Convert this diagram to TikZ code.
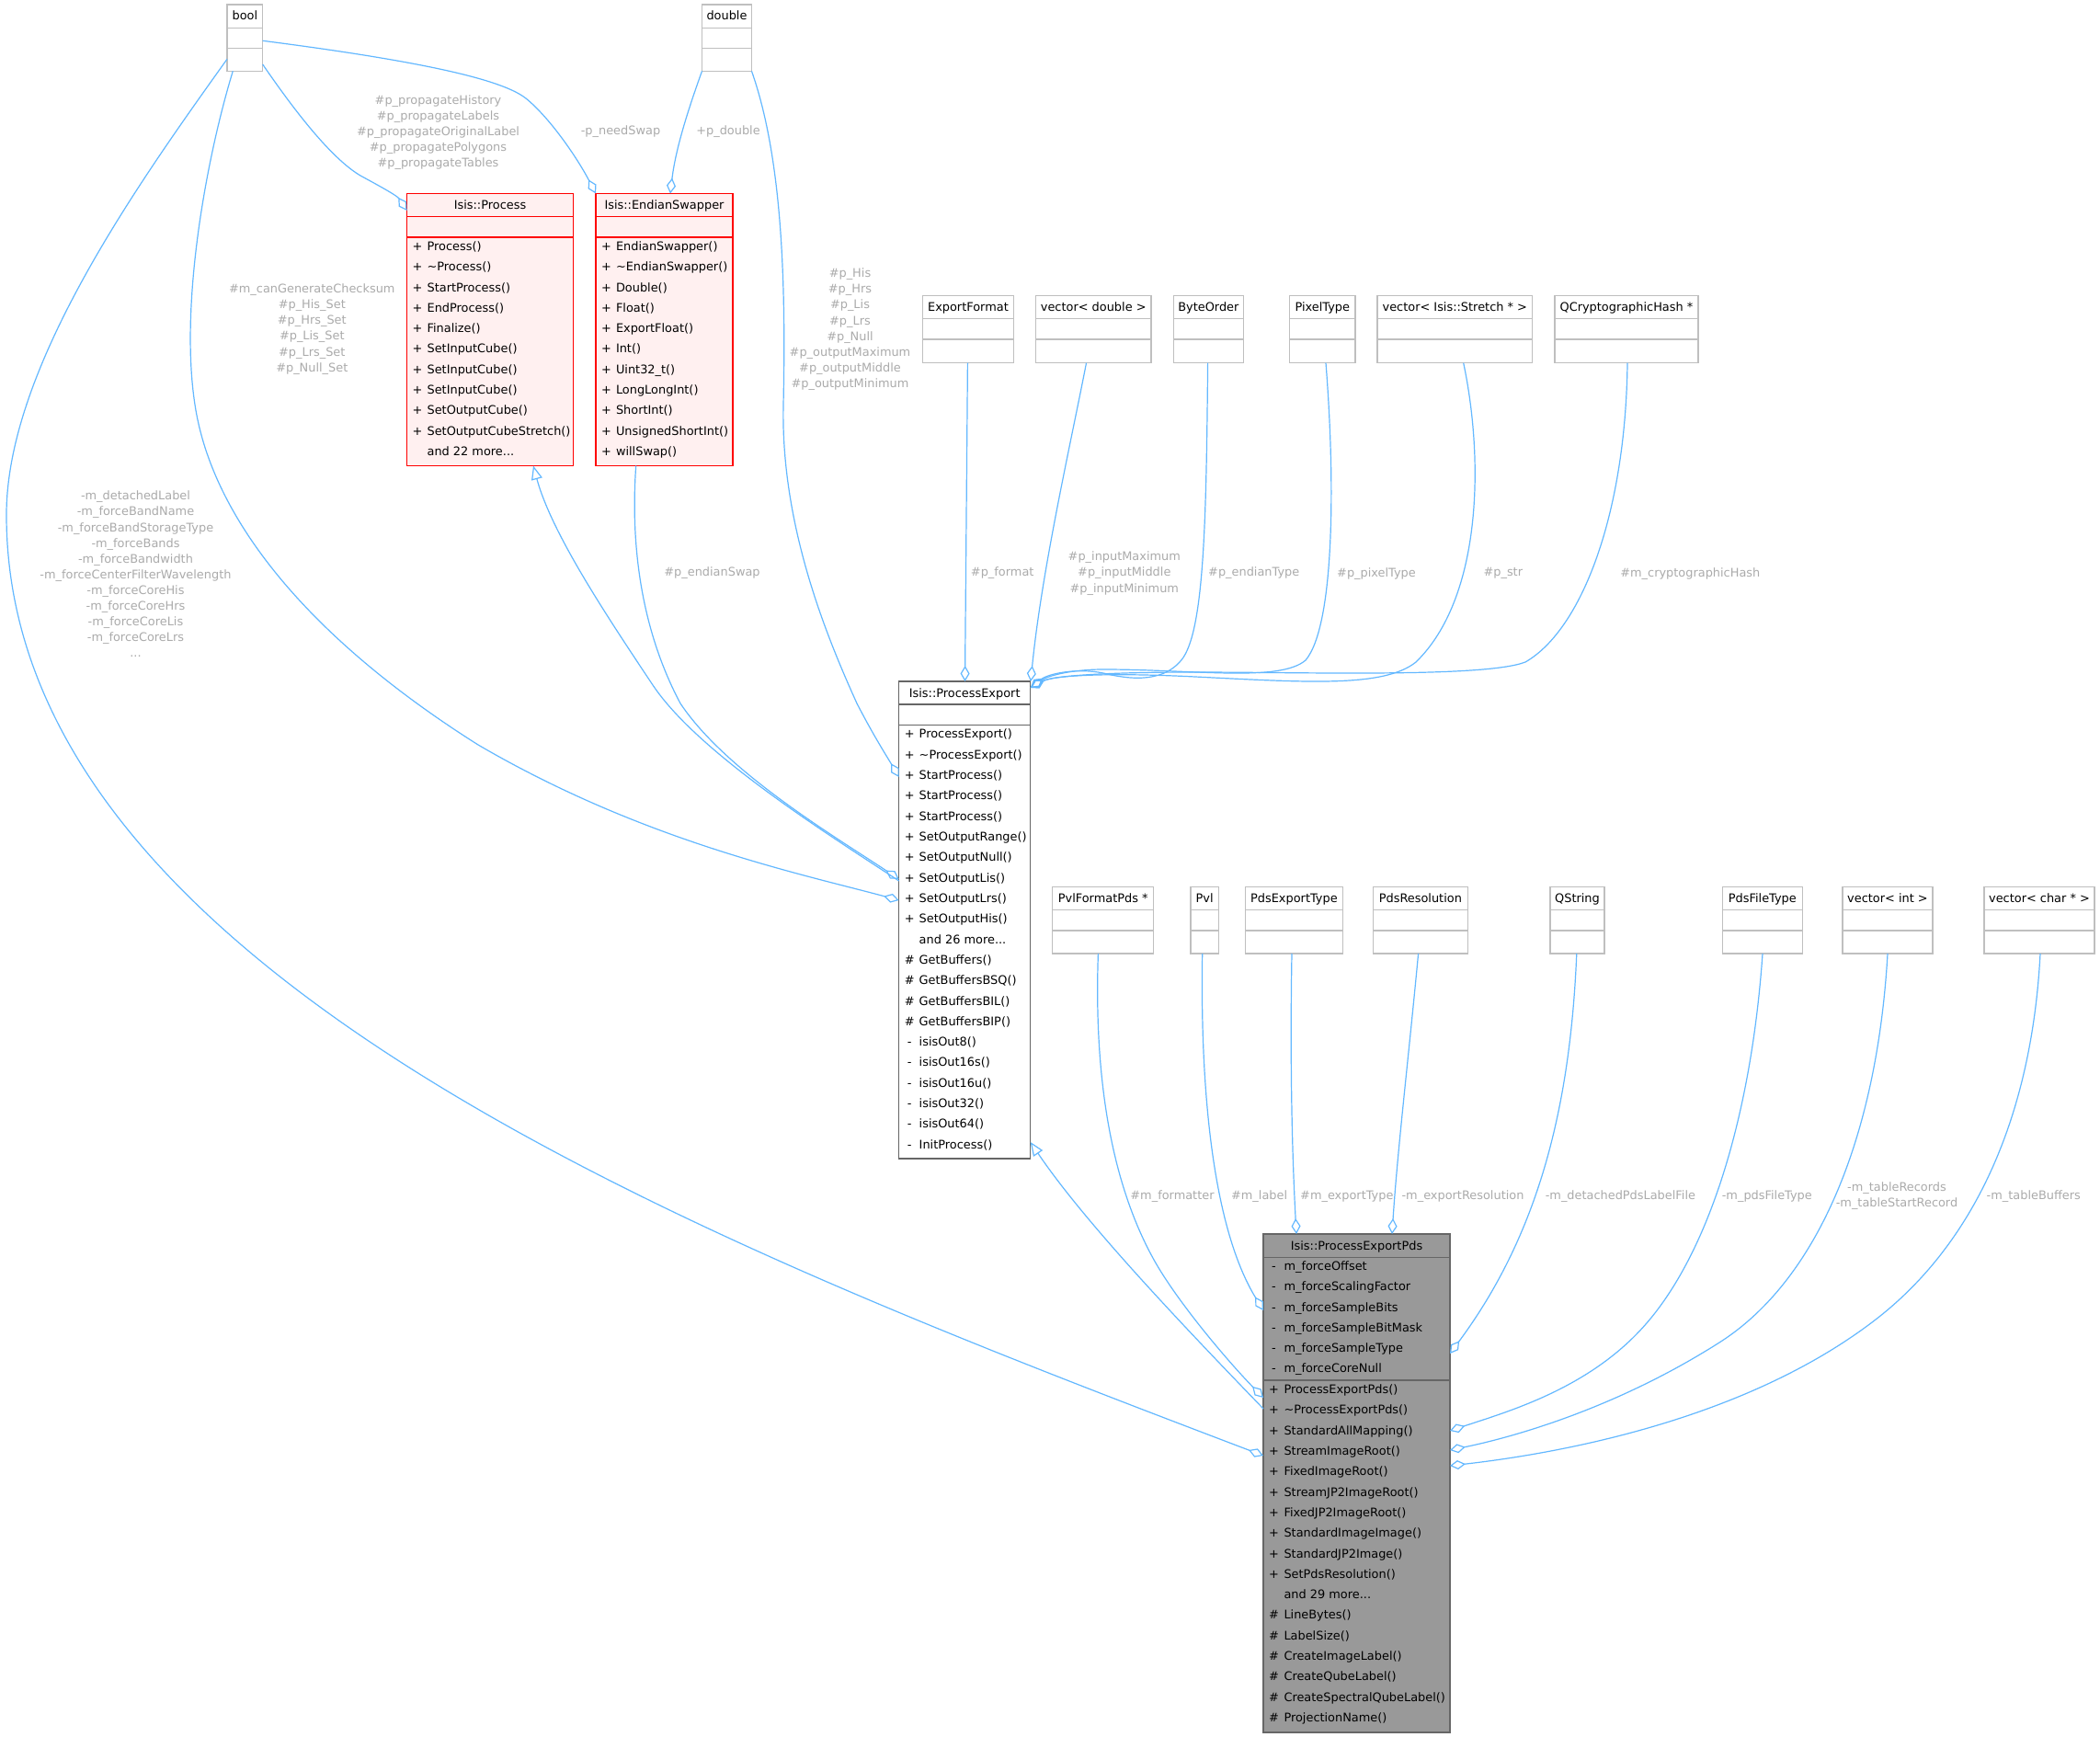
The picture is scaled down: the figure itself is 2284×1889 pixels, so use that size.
\documentclass[tikz,border=0pt]{standalone}
\usepackage{fontspec}
\setmainfont{DejaVu Sans}
\usetikzlibrary{arrows.meta,fit}
\definecolor{edgec}{HTML}{63B8FF}
\definecolor{lblc}{HTML}{ABABAB}
\definecolor{extb}{HTML}{BFBFBF}
\definecolor{darkb}{HTML}{666666}
\definecolor{pinkf}{HTML}{FFF0F0}
\definecolor{grayf}{HTML}{999999}
\newcommand\mydots{...}
\newcommand\typebox[6]{%
 \node[extbox, fit={(#2,#3) (#4,#5)}] (#1) {};
 \draw[sepext] (#2,#3+25.3) -- (#4,#3+25.3);
 \draw[sepext] (#2,#3+47.6) -- (#4,#3+47.6);
 \node[txt] (#1-h) at ({(#2+#4)/2},#3+13.5) {#6};
}
\begin{document}
\begin{tikzpicture}[x=1pt,y=-1pt,
 txt/.style={inner sep=0pt, outer sep=0pt, text height=9.4pt, text depth=2.6pt, font=\fontsize{12.9}{15.5}\selectfont},
 lbl/.style={inner sep=0pt, outer sep=0pt, text=lblc, align=center, font=\fontsize{12.9}{17.1}\selectfont},
 extbox/.style={draw=extb, fill=white, line width=1.3pt, inner sep=0pt, outer sep=0pt},
 redbox/.style={draw=red, fill=pinkf, line width=1.3pt, inner sep=0pt, outer sep=0pt},
 pebox/.style={draw=darkb, fill=white, line width=1.3pt, inner sep=0pt, outer sep=0pt},
 pdsbox/.style={draw=darkb, fill=grayf, line width=1.3pt, inner sep=0pt, outer sep=0pt},
 sepext/.style={draw=extb, line width=1.3pt},
 sepred/.style={draw=red, line width=1.3pt},
 sepdark/.style={draw=darkb, line width=1.3pt},
 edge/.style={draw=edgec, line width=1.2pt},
 agg/.style={edge, -{Diamond[open, length=17pt, width=10pt]}},
 inh/.style={edge, -{Triangle[open, length=15pt, width=12pt]}}
]
\useasboundingbox (0,0) rectangle (2284,1889);
\fill[white] (0,0) rectangle (2284,1889);

% ---------- simple type boxes
\typebox{tbool}{247}{5}{285.7}{77.3}{bool}
\typebox{tdouble}{763.5}{5}{817.5}{77.3}{double}
\typebox{tExportFormat}{1003.6}{321.5}{1102.3}{394.7}{ExportFormat}
\typebox{tvecdouble}{1126.4}{321.5}{1252.1}{394.7}{vector< double >}
\typebox{tByteOrder}{1276.2}{321.5}{1352.6}{394.7}{ByteOrder}
\typebox{tPixelType}{1402.5}{321.5}{1474}{394.7}{PixelType}
\typebox{tStretch}{1498}{321.5}{1666.6}{394.7}{vector< Isis::Stretch * >}
\typebox{tQCrypto}{1690.9}{321.5}{1847}{394.7}{QCryptographicHash *}
\typebox{tPvlFormatPds}{1144.6}{964.3}{1254.8}{1037}{PvlFormatPds *}
\typebox{tPvl}{1294.9}{964.3}{1325.5}{1037}{Pvl}
\typebox{tPdsExportType}{1354.5}{964.3}{1460.3}{1037}{PdsExportType}
\typebox{tPdsResolution}{1493.5}{964.3}{1596.2}{1037}{PdsResolution}
\typebox{tQString}{1686}{964.3}{1745}{1037}{QString}
\typebox{tPdsFileType}{1873.4}{964.3}{1960.3}{1037}{PdsFileType}
\typebox{tvecint}{2004}{964.3}{2102}{1037}{vector< int >}
\typebox{tvecchar}{2158}{964.3}{2278}{1037}{vector< char * >}

% ---------- Isis::Process
\node[redbox, fit={(442.6,210.5) (623.4,506.5)}] (Process) {};
\draw[sepred] (442.6,235.4) -- (623.4,235.4);
\draw[sepred] (442.6,258) -- (623.4,258);
\node[txt] (Process-h) at (533,224) {Isis::Process};
\foreach \sy/\tx [count=\i from 0] in {+/Process(), +/\textasciitilde Process(), +/StartProcess(), +/EndProcess(), +/Finalize(), +/SetInputCube(), +/SetInputCube(), +/SetInputCube(), +/SetOutputCube(), +/SetOutputCubeStretch(), {}/and 22 more\mydots}{
 \node[txt] (Process-s\i) at (454,269+22.3*\i) {\sy};
 \node[txt,anchor=west] (Process-r\i) at (464.6,269+22.3*\i) {\tx};
}

% ---------- Isis::EndianSwapper
\node[redbox, fit={(648,210.5) (797,506.5)}] (Endian) {};
\draw[sepred] (648,235.4) -- (797,235.4);
\draw[sepred] (648,258) -- (797,258);
\node[txt] (Endian-h) at (722.5,224) {Isis::EndianSwapper};
\foreach \sy/\tx [count=\i from 0] in {+/EndianSwapper(), +/\textasciitilde EndianSwapper(), +/Double(), +/Float(), +/ExportFloat(), +/Int(), +/Uint32\_t(), +/LongLongInt(), +/ShortInt(), +/UnsignedShortInt(), +/willSwap()}{
 \node[txt] (Endian-s\i) at (659.5,269+22.3*\i) {\sy};
 \node[txt,anchor=west] (Endian-r\i) at (670,269+22.3*\i) {\tx};
}

% ---------- Isis::ProcessExport
\node[pebox, fit={(977.7,741) (1120.7,1260)}] (PExp) {};
\draw[sepdark] (977.7,766) -- (1120.7,766);
\draw[sepdark] (977.7,788.2) -- (1120.7,788.2);
\node[txt] (PExp-h) at (1049.2,754.6) {Isis::ProcessExport};
\foreach \sy/\tx [count=\i from 0] in {+/ProcessExport(), +/\textasciitilde ProcessExport(), +/StartProcess(), +/StartProcess(), +/StartProcess(), +/SetOutputRange(), +/SetOutputNull(), +/SetOutputLis(), +/SetOutputLrs(), +/SetOutputHis(), {}/and 26 more\mydots, \#/GetBuffers(), \#/GetBuffersBSQ(), \#/GetBuffersBIL(), \#/GetBuffersBIP(), -/isisOut8(), -/isisOut16s(), -/isisOut16u(), -/isisOut32(), -/isisOut64(), -/InitProcess()}{
 \node[txt] (PExp-s\i) at (989.2,799.3+22.33*\i) {\sy};
 \node[txt,anchor=west] (PExp-r\i) at (999.7,799.3+22.33*\i) {\tx};
}

% ---------- Isis::ProcessExportPds
\node[pdsbox, fit={(1374,1342) (1577,1884)}] (PDS) {};
\draw[sepdark] (1374,1367.6) -- (1577,1367.6);
\draw[sepdark] (1374,1501) -- (1577,1501);
\node[txt] (PDS-h) at (1475.5,1355.6) {Isis::ProcessExportPds};
\foreach \tx [count=\i from 0] in {m\_forceOffset, m\_forceScalingFactor, m\_forceSampleBits, m\_forceSampleBitMask, m\_forceSampleType, m\_forceCoreNull}{
 \node[txt] (PDS-as\i) at (1385.5,1378.1+22.25*\i) {-};
 \node[txt,anchor=west] (PDS-a\i) at (1396.5,1378.1+22.25*\i) {\tx};
}
\foreach \sy/\tx [count=\i from 0] in {+/ProcessExportPds(), +/\textasciitilde ProcessExportPds(), +/StandardAllMapping(), +/StreamImageRoot(), +/FixedImageRoot(), +/StreamJP2ImageRoot(), +/FixedJP2ImageRoot(), +/StandardImageImage(), +/StandardJP2Image(), +/SetPdsResolution(), {}/and 29 more\mydots, \#/LineBytes(), \#/LabelSize(), \#/CreateImageLabel(), \#/CreateQubeLabel(), \#/CreateSpectralQubeLabel(), \#/ProjectionName()}{
 \node[txt] (PDS-s\i) at (1385.5,1512.2+22.3*\i) {\sy};
 \node[txt,anchor=west] (PDS-r\i) at (1396.5,1512.2+22.3*\i) {\tx};
}

% ---------- connectors
% bool -> EndianSwapper
\draw[agg] (tbool.east |- 0,44.3) .. controls (470,68) and (548,88) .. (572,107) .. controls (598,128) and (628,172) .. (Endian.north west);
\node[lbl] (lb1) at (675,143.5) {-p\_needSwap};
% double -> EndianSwapper
\draw[agg] (tdouble.south west) .. controls (750,115) and (735,160) .. (Endian.north -| 729,0);
\node[lbl] (lb2) at (792,143.5) {+p\_double};
% bool -> Process
\draw[agg] (tbool.east |- 0,70) .. controls (320,120) and (360,172) .. (392,191) .. controls (416,204) and (432,213) .. (Process.west |- 0,229);
\node[lbl] (lb3) at (476.5,144) {\#p\_propagateHistory\\\#p\_propagateLabels\\\#p\_propagateOriginalLabel\\\#p\_propagatePolygons\\\#p\_propagateTables};
% bool -> ProcessExport
\draw[agg] (tbool.south -| 253.3,0) .. controls (225,170) and (195,330) .. (212,440) .. controls (230,560) and (330,690) .. (520,810) .. controls (700,915) and (870,950) .. (PExp.west |- 0,979);
\node[lbl] (lb4) at (339.3,358) {\#m\_canGenerateChecksum\\\#p\_His\_Set\\\#p\_Hrs\_Set\\\#p\_Lis\_Set\\\#p\_Lrs\_Set\\\#p\_Null\_Set};
% ProcessExport -> Process (inheritance)
\draw[inh] (PExp.west |- 0,958) .. controls (905,910) and (760,820) .. (710,745) .. controls (660,670) and (600,580) .. (Process.south -| 580,0);
% EndianSwapper -> ProcessExport
\draw[agg] (Endian.south -| 691.7,0) .. controls (685,600) and (700,690) .. (740,765) .. controls (790,840) and (910,911) .. (PExp.west |- 0,956);
\node[lbl] (lb5) at (774.5,623.4) {\#p\_endianSwap};
% double -> ProcessExport
\draw[agg] (tdouble.south east) .. controls (850,170) and (855,300) .. (852,440) .. controls (849,570) and (898,690) .. (932,765) .. controls (950,800) and (966,825) .. (PExp.west |- 0,845);
\node[lbl] (lb6) at (924.5,358.2) {\#p\_His\\\#p\_Hrs\\\#p\_Lis\\\#p\_Lrs\\\#p\_Null\\\#p\_outputMaximum\\\#p\_outputMiddle\\\#p\_outputMinimum};
% ExportFormat -> ProcessExport
\draw[agg] (tExportFormat.south -| 1052.4,0) -- (PExp.north -| 1049.5,0);
\node[lbl] (lb7) at (1090.2,623.4) {\#p\_format};
% vector<double> -> ProcessExport
\draw[agg] (tvecdouble.south -| 1181.5,0) .. controls (1165,480) and (1133,620) .. (PExp.north -| 1121,0);
\node[lbl] (lb8) at (1222.8,623.6) {\#p\_inputMaximum\\\#p\_inputMiddle\\\#p\_inputMinimum};
% ByteOrder -> ProcessExport
\draw[agg] (tByteOrder.south -| 1313.6,0) .. controls (1312,560) and (1310,680) .. (1287,715) .. controls (1268,742) and (1232,740) .. (1200,732) .. controls (1170,726) and (1140,733) .. (PExp.east |- 0,748);
\node[lbl] (lb9) at (1363.7,623.4) {\#p\_endianType};
% PixelType -> ProcessExport
\draw[agg] (tPixelType.south -| 1442,0) .. controls (1452,520) and (1452,680) .. (1420,718) .. controls (1392,742) and (1300,728) .. (1200,728) .. controls (1165,728) and (1140,735) .. (PExp.east |- 0,748);
\node[lbl] (lb10) at (1497,623.7) {\#p\_pixelType};
% Stretch -> ProcessExport
\draw[agg] (tStretch.south -| 1591.7,0) .. controls (1614,500) and (1612,650) .. (1540,720) .. controls (1505,748) and (1420,742) .. (1300,736) .. controls (1200,731) and (1145,735) .. (PExp.east |- 0,748);
\node[lbl] (lb11) at (1634.8,623.7) {\#p\_str};
% QCryptographicHash -> ProcessExport
\draw[agg] (tQCrypto.south -| 1770,0) .. controls (1768,560) and (1720,685) .. (1659,720) .. controls (1615,737) and (1420,731) .. (1300,731) .. controls (1200,731) and (1145,735) .. (PExp.east |- 0,748);
\node[lbl] (lb12) at (1838.3,623.7) {\#m\_cryptographicHash};
% ProcessExportPds -> ProcessExport (inheritance)
\draw[inh] (PDS.west |- 0,1532) .. controls (1290,1445) and (1180,1330) .. (PExp.east |- 0,1242);
% bool -> ProcessExportPds
\draw[agg] (tbool.west |- 0,64.3) .. controls (150,200) and (7,400) .. (7,560) .. controls (7,1060) and (775,1355) .. (PDS.west |- 0,1583);
\node[lbl] (lb13) at (147.5,624.4) {-m\_detachedLabel\\-m\_forceBandName\\-m\_forceBandStorageType\\-m\_forceBands\\-m\_forceBandwidth\\-m\_forceCenterFilterWavelength\\-m\_forceCoreHis\\-m\_forceCoreHrs\\-m\_forceCoreLis\\-m\_forceCoreLrs\\\mydots};
% PvlFormatPds -> ProcessExportPds
\draw[agg] (tPvlFormatPds.south -| 1194.4,0) .. controls (1190,1160) and (1205,1280) .. (1255,1370) .. controls (1280,1415) and (1335,1480) .. (PDS.west |- 0,1520);
\node[lbl] (lb14) at (1275,1301) {\#m\_formatter};
% Pvl -> ProcessExportPds
\draw[agg] (tPvl.south -| 1307.7,0) .. controls (1305,1200) and (1322,1340) .. (PDS.west |- 0,1425);
\node[lbl] (lb15) at (1369.6,1301) {\#m\_label};
% PdsExportType -> ProcessExportPds
\draw[agg] (tPdsExportType.south -| 1405,0) .. controls (1403,1150) and (1405,1250) .. (PDS.north -| 1410,0);
\node[lbl] (lb16) at (1464.8,1301) {\#m\_exportType};
% PdsResolution -> ProcessExportPds
\draw[agg] (tPdsResolution.south -| 1542.6,0) .. controls (1532,1150) and (1520,1250) .. (PDS.north -| 1514,0);
\node[lbl] (lb17) at (1591,1301) {-m\_exportResolution};
% QString -> ProcessExportPds
\draw[agg] (tQString.south -| 1714.8,0) .. controls (1708,1200) and (1675,1340) .. (PDS.east |- 0,1472);
\node[lbl] (lb18) at (1762.4,1301) {-m\_detachedPdsLabelFile};
% PdsFileType -> ProcessExportPds
\draw[agg] (tPdsFileType.south -| 1917,0) .. controls (1905,1210) and (1860,1360) .. (1790,1440) .. controls (1729,1510) and (1640,1535) .. (PDS.east |- 0,1556);
\node[lbl] (lb19) at (1921.8,1301) {-m\_pdsFileType};
% vector<int> -> ProcessExportPds
\draw[agg] (tvecint.south -| 2053,0) .. controls (2042,1230) and (1980,1390) .. (1870,1460) .. controls (1760,1530) and (1650,1562) .. (PDS.east |- 0,1577);
\node[lbl] (lb20) at (2063,1301) {-m\_tableRecords\\-m\_tableStartRecord};
% vector<char*> -> ProcessExportPds
\draw[agg] (tvecchar.south -| 2219,0) .. controls (2210,1210) and (2150,1350) .. (2040,1435) .. controls (1900,1543) and (1700,1580) .. (PDS.east |- 0,1594);
\node[lbl] (lb21) at (2211.8,1301) {-m\_tableBuffers};
\end{tikzpicture}
\end{document}
